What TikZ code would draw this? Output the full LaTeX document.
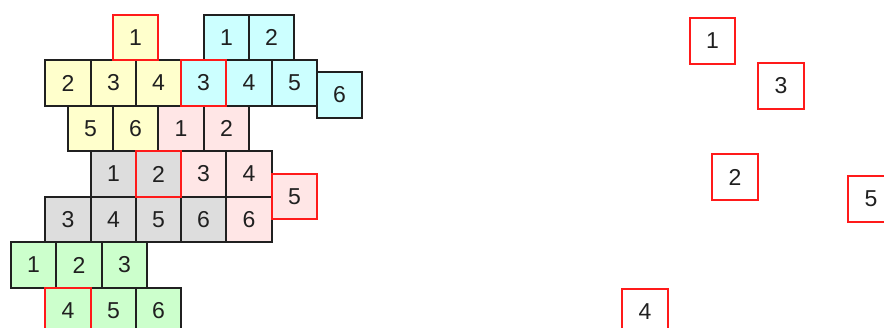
\documentclass[tikz,border=0pt]{standalone}
\usepackage{fontspec}
\setmainfont{Liberation Sans}
\definecolor{cyel}{HTML}{FFFFCC}
\definecolor{ccya}{HTML}{CCFFFF}
\definecolor{cpnk}{HTML}{FFE6E6}
\definecolor{cgry}{HTML}{DDDDDD}
\definecolor{cgrn}{HTML}{CCFFCC}
\definecolor{cred}{HTML}{FF1A1A}
\definecolor{cblk}{HTML}{202020}
\tikzset{
  cell/.style={draw=cblk, line width=1.8pt, minimum size=45.5pt, inner sep=0pt,
    font=\fontsize{23}{23}\selectfont, text=cblk},
  redcell/.style={cell, draw=cred},
  yel/.style={fill=cyel}, cya/.style={fill=ccya}, pnk/.style={fill=cpnk},
  gry/.style={fill=cgry}, grn/.style={fill=cgrn}, wht/.style={fill=white}
}
\begin{document}
\begin{tikzpicture}[x=1pt,y=-1pt]
\useasboundingbox (0,0) rectangle (884,328);
\clip (0,0) rectangle (884,328);
\fill[white] (0,0) rectangle (884,328);
% black-bordered cells
\node[cell,yel] (y2) at (68,83) {2};
\node[cell,yel] (y3) at (113.5,83) {3};
\node[cell,yel] (y4) at (158.5,83) {4};
\node[cell,yel] (y5) at (90.5,128.5) {5};
\node[cell,yel] (y6) at (135.5,128.5) {6};
\node[cell,cya] (c1) at (226.5,37.5) {1};
\node[cell,cya] (c2) at (271.5,37.5) {2};
\node[cell,cya] (c4) at (249,83) {4};
\node[cell,cya] (c5) at (294.5,83) {5};
\node[cell,cya] (c6) at (339.5,95) {6};
\node[cell,pnk] (p1) at (181,128.5) {1};
\node[cell,pnk] (p2) at (226.5,128.5) {2};
\node[cell,pnk] (p3) at (203.5,174) {3};
\node[cell,pnk] (p4) at (249,174) {4};
\node[cell,pnk] (p6) at (249,219.5) {6};
\node[cell,gry] (g1) at (113.5,174) {1};
\node[cell,gry] (g3) at (68,219.5) {3};
\node[cell,gry] (g4) at (113.5,219.5) {4};
\node[cell,gry] (g5) at (158.5,219.5) {5};
\node[cell,gry] (g6) at (203.5,219.5) {6};
\node[cell,grn] (n1) at (33.5,265) {1};
\node[cell,grn] (n2) at (79,265) {2};
\node[cell,grn] (n3) at (124.5,265) {3};
\node[cell,grn] (n5) at (113.5,310.5) {5};
\node[cell,grn] (n6) at (158.5,310.5) {6};
% red-bordered cells
\node[redcell,yel] (y1) at (135.5,37.5) {1};
\node[redcell,cya] (c3) at (203.5,83) {3};
\node[redcell,pnk] (p5) at (294.5,196.5) {5};
\node[redcell,gry] (g2) at (158.5,174) {2};
\node[redcell,grn] (n4) at (68,310.5) {4};
% right side
\node[redcell,wht] (r1) at (712.5,41) {1};
\node[redcell,wht] (r3) at (781,86) {3};
\node[redcell,wht] (r2) at (735,177) {2};
\node[redcell,wht] (r5) at (871,199) {5};
\node[redcell,wht] (r4) at (645,312) {4};
\end{tikzpicture}
\end{document}
